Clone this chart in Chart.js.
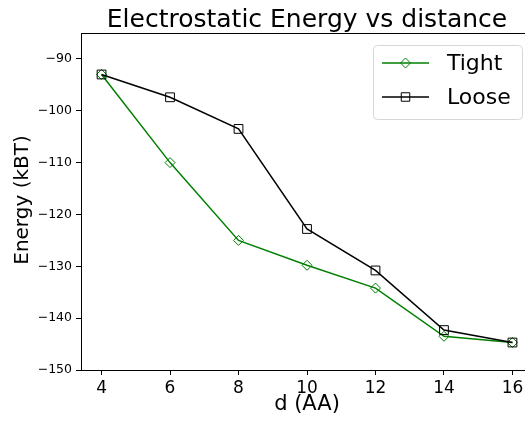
<!DOCTYPE html>
<html>
<head>
<meta charset="utf-8">
<script src="https://cdn.jsdelivr.net/npm/chart.js"></script>
<style>
  html, body { margin: 0; padding: 0; overflow: hidden; background: #fff; }
  canvas { display: block; }
</style>
</head>
<body>
<canvas id="energyChart" width="545" height="422"></canvas>
<script>
const distances = [4, 6, 8, 10, 12, 14, 16];
const tightEnergy = [-93, -110, -125, -129.8, -134.2, -143.5, -144.7];
const looseEnergy = [-93, -97.4, -103.5, -122.8, -130.8, -142.3, -144.7];
const xTicks = [4, 6, 8, 10, 12, 14, 16];
const yTicks = [-150, -140, -130, -120, -110, -100, -90];

const FONT = "'DejaVu Sans', sans-serif";

function toPoints(values) {
    return distances.map((d, i) => ({ x: d, y: values[i] }));
}

function drawMarker(ctx, style, x, y, r, color) {
    ctx.save();
    ctx.strokeStyle = color;
    ctx.lineWidth = 1;
    ctx.beginPath();
    if (style === 'rectRot') {
        ctx.moveTo(x, y - r);
        ctx.lineTo(x + r, y);
        ctx.lineTo(x, y + r);
        ctx.lineTo(x - r, y);
        ctx.closePath();
    } else {
        const s = r * Math.SQRT1_2;
        ctx.rect(x - s, y - s, 2 * s, 2 * s);
    }
    ctx.stroke();
    ctx.restore();
}

// title, y label, top spine and the legend box
const decorations = {
    id: 'decorations',
    afterDraw(chart) {
        const ctx = chart.ctx;
        const area = chart.chartArea;
        ctx.save();
        ctx.strokeStyle = '#000';
        ctx.lineWidth = 1;
        ctx.beginPath();
        ctx.moveTo(area.left, area.top + 0.5);
        ctx.lineTo(area.right, area.top + 0.5);
        ctx.stroke();

        ctx.fillStyle = '#000';
        ctx.font = '25px ' + FONT;
        ctx.textAlign = 'center';
        ctx.textBaseline = 'alphabetic';
        ctx.fillText('Electrostatic Energy vs distance', (area.left + area.right) / 2, 27);

        // y axis label
        ctx.save();
        ctx.translate(23, 200);
        ctx.rotate(-Math.PI / 2);
        ctx.font = '20px ' + FONT;
        ctx.textBaseline = 'middle';
        ctx.fillText('Energy (kBT)', 0, 0);
        ctx.restore();

        // legend
        const bx = 373, by = 45, bw = 149, bh = 74, br = 4;
        ctx.beginPath();
        ctx.roundRect(bx + 0.5, by + 0.5, bw, bh, br);
        ctx.fillStyle = 'rgba(255,255,255,0.8)';
        ctx.fill();
        ctx.strokeStyle = '#d6d6d6';
        ctx.stroke();

        const items = [
            { label: 'Tight', color: 'green', style: 'rectRot', r: 5, y: 63 },
            { label: 'Loose', color: '#000', style: 'rect', r: 6, y: 97 }
        ];
        items.forEach(it => {
            ctx.strokeStyle = it.color;
            ctx.lineWidth = 1.5;
            ctx.beginPath();
            ctx.moveTo(382, it.y);
            ctx.lineTo(429, it.y);
            ctx.stroke();
            drawMarker(ctx, it.style, 405.5, it.y, it.r, it.color);
            ctx.fillStyle = '#000';
            ctx.font = '22px ' + FONT;
            ctx.textAlign = 'left';
            ctx.textBaseline = 'middle';
            ctx.fillText(it.label, 447, it.y + 1);
        });
        ctx.restore();
    }
};

const data = {
    datasets: [
        {
            label: 'Tight',
            data: toPoints(tightEnergy),
            borderColor: 'green',
            backgroundColor: 'rgba(0,0,0,0)',
            borderWidth: 1.5,
            pointStyle: 'rectRot',
            pointRadius: 5,
            pointBorderWidth: 1,
            pointBorderColor: 'green',
            pointBackgroundColor: 'rgba(0,0,0,0)',
            order: 1
        },
        {
            label: 'Loose',
            data: toPoints(looseEnergy),
            borderColor: '#000',
            backgroundColor: 'rgba(0,0,0,0)',
            borderWidth: 1.5,
            pointStyle: 'rect',
            pointRadius: 6.2,
            pointBorderWidth: 1,
            pointBorderColor: '#000',
            pointBackgroundColor: 'rgba(0,0,0,0)',
            order: 0
        }
    ]
};

const config = {
    type: 'line',
    data: data,
    options: {
        responsive: false,
        animation: false,
        layout: { padding: { top: 33, right: 12, left: 0, bottom: 0 } },
        plugins: {
            legend: { display: false },
            title: { display: false },
            tooltip: { enabled: false }
        },
        scales: {
            x: {
                type: 'linear',
                min: 3.4,
                max: 16.6,
                afterBuildTicks: scale => { scale.ticks = xTicks.map(v => ({ value: v })); },
                afterFit: scale => { scale.height = 52; },
                grid: { drawOnChartArea: false, drawTicks: true, tickLength: 5, tickColor: '#000' },
                border: { display: true, color: '#000', width: 1 },
                ticks: { color: '#000', padding: 3, maxRotation: 0, font: { family: FONT, size: 17 } },
                title: {
                    display: true,
                    text: 'd (AA)',
                    color: '#000',
                    font: { family: FONT, size: 21, lineHeight: 1.2 },
                    padding: { top: 0, bottom: 5 }
                }
            },
            y: {
                type: 'linear',
                min: -150,
                max: -85,
                afterBuildTicks: scale => { scale.ticks = yTicks.map(v => ({ value: v })); },
                afterFit: scale => { scale.width = 81; },
                grid: { drawOnChartArea: false, drawTicks: true, tickLength: 5, tickColor: '#000' },
                border: { display: true, color: '#000', width: 1 },
                ticks: {
                    color: '#000',
                    padding: 4,
                    font: { family: FONT, size: 12.5 },
                    callback: v => String(v).replace('-', '\u2212')
                },
                title: { display: false }
            }
        }
    },
    plugins: [decorations]
};

var energyChart = new Chart(document.getElementById('energyChart'), config);
</script>
</body>
</html>
